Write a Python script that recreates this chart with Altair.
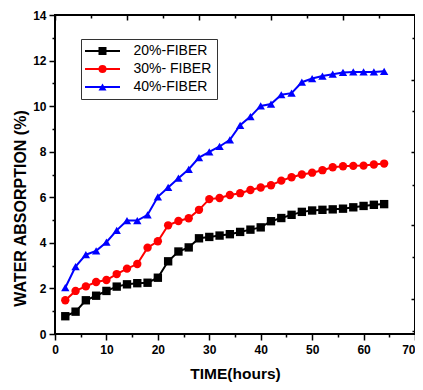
import altair as alt
import pandas as pd

# ---- data ----
times = list(range(2, 66, 2))
fiber20 = [0.78, 0.98, 1.48, 1.68, 1.89, 2.08, 2.18, 2.23, 2.25, 2.47, 3.19, 3.62,
           3.80, 4.20, 4.26, 4.32, 4.38, 4.48, 4.58, 4.68, 4.95, 5.09, 5.23, 5.36,
           5.42, 5.45, 5.47, 5.50, 5.56, 5.62, 5.67, 5.70]
fiber30 = [1.48, 1.89, 2.09, 2.28, 2.37, 2.63, 2.87, 3.07, 3.79, 4.07, 4.77, 4.96,
           5.08, 5.45, 5.92, 5.97, 6.10, 6.18, 6.32, 6.43, 6.53, 6.73, 6.88, 7.00,
           7.08, 7.19, 7.32, 7.36, 7.38, 7.39, 7.44, 7.48]
fiber40 = [2.03, 2.96, 3.48, 3.65, 4.03, 4.55, 4.98, 4.98, 5.23, 6.02, 6.43, 6.84,
           7.23, 7.74, 7.99, 8.23, 8.52, 9.16, 9.54, 10.01, 10.09, 10.50, 10.57, 11.05,
           11.21, 11.32, 11.40, 11.48, 11.50, 11.50, 11.50, 11.53]
series_names = ["20%-FIBER", "30%- FIBER", "40%-FIBER"]
series_colors = ["#000000", "#FF0000", "#0000FF"]
series_shapes = ["square", "circle", "triangle-up"]

x_ticks = list(range(0, 71, 5))
y_ticks = list(range(0, 15))
top_ticks = list(range(0, 71, 7))
right_ticks = [0.15, 1.55, 3.38, 4.77, 6.56, 7.97, 9.79, 11.16, 13.0]

rows = []
for name, vals in zip(series_names, [fiber20, fiber30, fiber40]):
    for t, v in zip(times, vals):
        rows.append({"time": t, "value": v, "series": name, "series2": name})
df = pd.DataFrame(rows)

FONT = "Liberation Sans"
W, H = 360, 319

x_scale = alt.Scale(domain=[0, 70], nice=False, zero=False)
y_scale = alt.Scale(domain=[0, 14], nice=False)

legend_common = dict(
    orient="none", legendX=26, legendY=24, title=None, padding=5,
    labelFont=FONT, labelFontSize=14, labelColor="black",
    symbolSize=64, labelOffset=24, symbolOffset=9.5, rowPadding=4,
)

bottom_axis = alt.Axis(
    orient="bottom", values=x_ticks,
    labelExpr="datum.value % 10 === 0 ? datum.label : ''",
    labelAlign={"condition": {"test": "datum.value >= 70", "value": "right"}, "value": "center"},
    tickSize={"condition": {"test": "datum.value % 10 === 0", "value": 6}, "value": 3},
    labelPadding=4, labelFlush=False, labelOverlap=False,
    title="TIME(hours)", titleFontSize=15.5, titleX=W / 2, titleY=44,
    titleBaseline="alphabetic", titleAlign="center",
)
left_axis = alt.Axis(
    orient="left", values=y_ticks,
    labelExpr="datum.value % 2 === 0 ? datum.label : ''",
    tickSize={"condition": {"test": "datum.value % 2 === 0", "value": 6}, "value": 3},
    labelPadding=3, labelFlush=False, labelOverlap=False,
    title="WATER ABSORPTION (%)", titleFontSize=16, titleAngle=270,
    titleX=-30, titleY=193, titleBaseline="alphabetic", titleAlign="center",
)
top_axis = alt.Axis(
    orient="bottom", offset=-H, values=top_ticks, labels=False, title=None,
    tickSize={"condition": {"test": "datum.value % 14 === 0", "value": 5}, "value": 3},
)
right_axis = alt.Axis(
    orient="left", offset=-W, values=right_ticks, labels=False, title=None,
    tickSize={"condition": {"test": "indexof([1.55, 4.77, 7.97, 11.16], datum.value) >= 0", "value": 4}, "value": 3},
)

lines = alt.Chart(df).mark_line(strokeWidth=2).encode(
    x=alt.X("time:Q", scale=x_scale, axis=bottom_axis),
    y=alt.Y("value:Q", scale=y_scale, axis=left_axis),
    color=alt.Color(
        "series:N",
        scale=alt.Scale(domain=series_names, range=series_colors),
        legend=alt.Legend(symbolType="M-4.375,0H4.375", symbolStrokeWidth=2,
                          strokeColor="#333333", **legend_common),
    ),
)

points = alt.Chart(df).mark_point(filled=True, size=70, opacity=1).encode(
    x=alt.X("time:Q", scale=x_scale, axis=top_axis),
    y=alt.Y("value:Q", scale=y_scale, axis=right_axis),
    fill=alt.Fill(
        "series2:N",
        scale=alt.Scale(range=series_colors),
        legend=alt.Legend(labelOpacity=0, **legend_common),
    ),
    shape=alt.Shape(
        "series2:N",
        scale=alt.Scale(range=series_shapes),
        legend=alt.Legend(labelOpacity=0, **legend_common),
    ),
)

chart = (
    alt.layer(lines, points)
    .resolve_axis(x="independent", y="independent")
    .properties(
        width=W, height=H,
        padding={"left": 47, "top": 7, "right": 0, "bottom": 48},
        autosize=alt.AutoSizeParams(type="none"),
        background="white",
    )
    .configure_view(stroke="black", strokeWidth=2)
    .configure_axis(
        labelFont=FONT, labelFontSize=12, labelFontWeight="bold", labelColor="black",
        titleFont=FONT, titleFontWeight="bold", titleColor="black",
        tickColor="black", tickWidth=1.5, grid=False, domain=False,
    )
)

chart.save("out.html", embed_options={"renderer": "svg", "actions": False})
